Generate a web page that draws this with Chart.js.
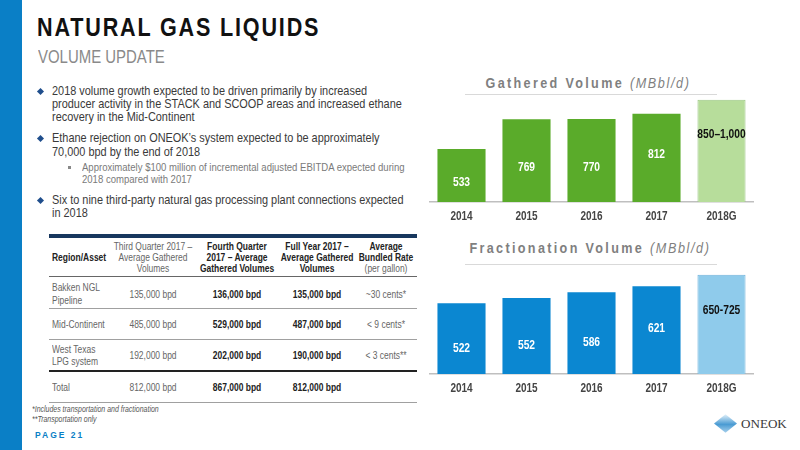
<!DOCTYPE html>
<html>
<head>
<meta charset="utf-8">
<script src="https://cdn.jsdelivr.net/npm/chart.js@4/dist/chart.umd.min.js"></script>
<style>
  html,body{margin:0;padding:0;background:#fff;}
  body{width:800px;height:450px;position:relative;overflow:hidden;font-family:"Liberation Sans",Arial,sans-serif;}
  .abs{position:absolute;white-space:nowrap;}
  #stripe{left:0;top:0;width:22px;height:450px;background:#0a7fc6;}
  .dia{width:5px;height:5px;background:#1f4e8c;transform:rotate(45deg);}
  .sq{width:3px;height:3px;background:#888;}
  .sep{height:1px;background:#d9d9d9;}
  .hl{left:49px;width:368px;}
  #logo-d{left:719px;top:417px;width:13px;height:13px;transform:scaleX(1.25) rotate(45deg);background:linear-gradient(135deg,#e3f1fa,#4a9bd3 55%,#a7d0ec);}
</style>
</head>
<body>
<div id="stripe" class="abs"></div>

<div class="abs dia" style="left:38px;top:89px"></div>
<div class="abs dia" style="left:38px;top:136px"></div>
<div class="abs sq" style="left:68px;top:166px"></div>
<div class="abs dia" style="left:38px;top:198px"></div>

<!-- table rules -->
<div class="abs hl" style="top:234px;height:4px;background:#17375e"></div>
<div class="abs hl" style="top:276px;height:1px;background:#666"></div>
<div class="abs hl" style="top:308px;height:1px;background:#a0a0a0"></div>
<div class="abs hl" style="top:339px;height:1px;background:#a0a0a0"></div>
<div class="abs hl" style="top:370px;height:2px;background:#222"></div>
<div class="abs hl" style="top:402px;height:1px;background:#a0a0a0"></div>

<div class="abs sep" style="left:465px;top:94px;width:252px"></div>
<div class="abs sep" style="left:465px;top:264px;width:252px"></div>
<div id="logo-d" class="abs"></div>

<div class="abs" style="left:429px;top:94px;width:325px;height:130px"><canvas id="c1"></canvas></div>
<div class="abs" style="left:429px;top:264px;width:325px;height:132px"><canvas id="c2"></canvas></div>

<script>
// ---- data ----
const categories = ['2014', '2015', '2016', '2017', '2018G'];
const gatheredValues = [533, 769, 770, 812, 925];          // 2018G plotted at midpoint of 850–1,000 guidance
const gatheredLabels = ['533', '769', '770', '812', '850–1,000'];
const fractionationValues = [522, 552, 586, 621, 687.5];    // 2018G plotted at midpoint of 650-725 guidance
const fractionationLabels = ['522', '552', '586', '621', '650-725'];

// ---- slide text helper ----
function put(text, x, yc, o) {
  o = o || {};
  const size = o.size || 12;
  const d = document.createElement('div');
  d.className = 'abs';
  d.innerHTML = text;
  const s = d.style;
  s.fontSize = size + 'px';
  s.lineHeight = (size * 1.2) + 'px';
  s.top = (yc - size * 0.6) + 'px';
  s.left = x + 'px';
  s.fontWeight = o.weight || 'normal';
  s.fontStyle = o.style || 'normal';
  s.color = o.color || '#3a3a3a';
  if (o.ls) s.letterSpacing = o.ls + 'px';
  if (o.family) s.fontFamily = o.family;
  const sx = o.sx || 1;
  if (o.align === 'center') {
    s.transformOrigin = 'center center';
    s.transform = 'translateX(-50%) scaleX(' + sx + ')';
  } else {
    s.transformOrigin = 'left center';
    s.transform = 'scaleX(' + sx + ')';
  }
  document.body.appendChild(d);
}

// title
put('NATURAL GAS LIQUIDS', 37, 28, {size: 26, weight: 'bold', color: '#111', ls: 2.2, sx: 0.83});
put('VOLUME UPDATE', 38, 57.5, {size: 18, color: '#8a8a8a', sx: 0.83});

// bullets
const B = {size: 13, color: '#3a3a3a', sx: 0.84};
put('2018 volume growth expected to be driven primarily by increased', 52, 91, B);
put('producer activity in the STACK and SCOOP areas and increased ethane', 52, 104, B);
put('recovery in the Mid-Continent', 52, 117, B);
put('Ethane rejection on ONEOK’s system expected to be approximately', 52, 138, B);
put('70,000 bpd by the end of 2018', 52, 152, B);
const S = {size: 11.5, color: '#7a7a7a', sx: 0.83};
put('Approximately $100 million of incremental adjusted EBITDA expected during', 82, 168, S);
put('2018 compared with 2017', 82, 180, S);
put('Six to nine third-party natural gas processing plant connections expected', 52, 200, B);
put('in 2018', 52, 213, B);

// table
const TN = {size: 11, color: '#666', sx: 0.77, align: 'center'};
const TB = {size: 11, color: '#222', weight: 'bold', sx: 0.77, align: 'center'};
const TL = {size: 11, color: '#666', sx: 0.77};
put('Region/Asset', 52, 258, {size: 11, color: '#222', weight: 'bold', sx: 0.77});
put('Third Quarter 2017 –', 153, 247, TN); put('Average Gathered', 153, 258, TN); put('Volumes', 153, 269, TN);
put('Fourth Quarter', 237, 247, TB); put('2017 – Average', 237, 258, TB); put('Gathered Volumes', 237, 269, TB);
put('Full Year 2017 –', 317, 247, TB); put('Average Gathered', 317, 258, TB); put('Volumes', 317, 269, TB);
put('Average', 386, 247, TB); put('Bundled Rate', 386, 258, TB); put('(per gallon)', 386, 269, TN);

put('Bakken NGL', 52, 288, TL); put('Pipeline', 52, 301, TL);
put('135,000 bpd', 153, 295, TN); put('136,000 bpd', 237, 295, TB); put('135,000 bpd', 317, 295, TB); put('~30 cents*', 386, 295, TN);
put('Mid-Continent', 52, 325, TL);
put('485,000 bpd', 153, 325, TN); put('529,000 bpd', 237, 325, TB); put('487,000 bpd', 317, 325, TB); put('&lt; 9 cents*', 386, 325, TN);
put('West Texas', 52, 350, TL); put('LPG system', 52, 362, TL);
put('192,000 bpd', 153, 356, TN); put('202,000 bpd', 237, 356, TB); put('190,000 bpd', 317, 356, TB); put('&lt; 3 cents**', 386, 356, TN);
put('Total', 52, 388, TL);
put('812,000 bpd', 153, 388, TN); put('867,000 bpd', 237, 388, TB); put('812,000 bpd', 317, 388, TB);

put('*Includes transportation and fractionation', 32, 409, {size: 8.5, style: 'italic', color: '#555', sx: 0.82});
put('**Transportation only', 32, 419, {size: 8.5, style: 'italic', color: '#555', sx: 0.82});
put('PAGE 21', 35, 435, {size: 8.5, weight: 'bold', color: '#0a7fc6', ls: 2});
put('ONEOK', 741, 424, {size: 13.5, color: '#3a3a3a', family: '"Liberation Serif","DejaVu Serif",serif', sx: 0.97});

// chart titles
put('Gathered Volume <i style="font-weight:normal;letter-spacing:1.8px">(MBbl/d)</i>', 588, 83, {size: 14, weight: 'bold', color: '#7f7f7f', ls: 2.6, sx: 0.9, align: 'center'});
put('Fractionation Volume <i style="font-weight:normal;letter-spacing:1.8px">(MBbl/d)</i>', 590, 248, {size: 14, weight: 'bold', color: '#7f7f7f', ls: 2.6, sx: 0.9, align: 'center'});

// ---- charts ----
const labelPlugin = {
  id: 'barLabels',
  afterDraw(chart) {
    const ctx = chart.ctx;
    const labels = chart.options.plugins.barLabels.labels;
    const meta = chart.getDatasetMeta(0);
    const xs = chart.scales.x;
    const n = meta.data.length;
    ctx.save();
    ctx.textAlign = 'center';
    ctx.textBaseline = 'middle';
    ctx.font = 'bold 12.5px "Liberation Sans", Arial';
    meta.data.forEach((bar, i) => {
      const top = bar.y, bottom = bar.base, h = bottom - top;
      let frac = 0.5;
      if (i === n - 2) frac = 0.4;
      if (i === n - 1) frac = 0.3;
      ctx.save();
      ctx.translate(bar.x, top + h * frac);
      ctx.scale(0.82, 1);
      ctx.fillStyle = i === n - 1 ? '#111' : '#fff';
      ctx.fillText(labels[i], 0, 0);
      ctx.restore();
    });
    // category tick labels, narrow
    ctx.font = 'bold 12.5px "Liberation Sans", Arial';
    ctx.fillStyle = '#444';
    chart.data.labels.forEach((lab, i) => {
      ctx.save();
      ctx.translate(xs.getPixelForValue(i), xs.top + 14.5);
      ctx.scale(0.8, 1);
      ctx.fillText(lab, 0, 0);
      ctx.restore();
    });
    ctx.restore();
  }
};

function makeChart(id, values, labels, solid, light, lightBorder, max) {
  return new Chart(document.getElementById(id), {
    type: 'bar',
    data: {
      labels: categories,
      datasets: [{
        data: values,
        backgroundColor: values.map((v, i) => i === values.length - 1 ? light : solid),
        borderColor: values.map((v, i) => i === values.length - 1 ? lightBorder : solid),
        borderWidth: values.map((v, i) => i === values.length - 1 ? 1 : 0),
        borderSkipped: 'bottom',
        barPercentage: 0.74,
        categoryPercentage: 1
      }]
    },
    options: {
      responsive: true,
      maintainAspectRatio: false,
      animation: false,
      layout: { padding: 0 },
      plugins: { legend: { display: false }, tooltip: { enabled: false }, barLabels: { labels } },
      scales: {
        x: {
          grid: { display: false, drawTicks: false },
          border: { display: true, color: '#bfbfbf', width: 1.5 },
          ticks: { display: false },
          afterFit(s) { s.height = 22; }
        },
        y: { display: false, min: 110, max: max }
      }
    },
    plugins: [labelPlugin]
  });
}

makeChart('c1', gatheredValues, gatheredLabels, '#5aab2a', '#b7dd9b', '#9cc784', 970);
makeChart('c2', fractionationValues, fractionationLabels, '#0b87d1', '#8fcbeb', '#6fb3dc', 750);
</script>
</body>
</html>
